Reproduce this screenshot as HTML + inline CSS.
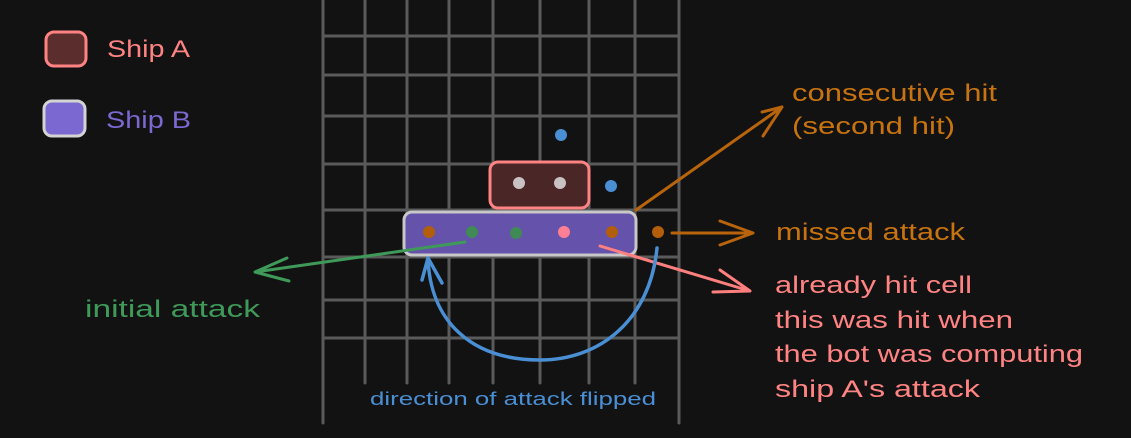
<!DOCTYPE html>
<html><head><meta charset="utf-8"><style>
html,body{margin:0;padding:0;background:#121212;}
svg{display:block;}
text{font-family:"Liberation Sans","DejaVu Sans",sans-serif;}
</style></head><body>
<svg width="1131" height="438" viewBox="0 0 1131 438">
<rect width="1131" height="438" fill="#121212"/>
<g id="grid" stroke="#5a5a5a" stroke-width="3" stroke-linecap="round"></g>

<g>
  <rect x="46" y="32" width="40" height="34" rx="8" fill="#5c2d2d" stroke="#ff8383" stroke-width="3"/>
  <text x="107" y="57" font-size="24" fill="#ff8383" textLength="83" lengthAdjust="spacingAndGlyphs">Ship A</text>
  <rect x="44" y="101" width="41" height="35" rx="8" fill="#7b68d0" stroke="#d4d4d4" stroke-width="3"/>
  <text x="106" y="128" font-size="24" fill="#7b68d0" textLength="85" lengthAdjust="spacingAndGlyphs">Ship B</text>
</g>

<rect x="490" y="162" width="99" height="46" rx="8" fill="#4a2626" stroke="#ff8383" stroke-width="3"/>
<rect x="404" y="212" width="232" height="43" rx="8" fill="#6552ab" stroke="#c8c8c8" stroke-width="3"/>

<g>
  <circle cx="519" cy="183" r="6" fill="#c9c2c2"/>
  <circle cx="560" cy="183" r="6" fill="#c9c2c2"/>
  <circle cx="561" cy="135" r="6" fill="#4a8fd4"/>
  <circle cx="611" cy="186" r="6" fill="#4a8fd4"/>
  <circle cx="429" cy="232" r="6" fill="#b35e0a"/>
  <circle cx="472" cy="232" r="6" fill="#3f8a55"/>
  <circle cx="516" cy="233" r="6" fill="#3f8a55"/>
  <circle cx="564" cy="232" r="6" fill="#ff7f95"/>
  <circle cx="612" cy="232" r="6" fill="#b35e0a"/>
  <circle cx="658" cy="232" r="6" fill="#b35e0a"/>
</g>

<g fill="none" stroke-width="3" stroke-linecap="round" stroke-linejoin="round">
  <path d="M636 210 L782 107 M762 112 L782 107 L763 136" stroke="#b8640c"/>
  <path d="M672 233 L753 233 M720 221 L753 233 L720 245" stroke="#b8640c"/>
  <path d="M600 246 L750 291 M720 270 L750 291 L713 292" stroke="#ff7f7f"/>
  <path d="M465 242 L255 272 M287 258 L255 272 L289 281" stroke="#3f9a5a"/>
  <path d="M657 248 C650 320 600 360 540 360 C470 360 430 320 428 258 M422 280 L428 258 L442 283" stroke="#4a8fd4" stroke-width="3.5"/>
</g>

<g>
  <text x="792" y="101" font-size="24" fill="#c7730f" textLength="205" lengthAdjust="spacingAndGlyphs">consecutive hit</text>
  <text x="792" y="134" font-size="24" fill="#c7730f" textLength="163" lengthAdjust="spacingAndGlyphs">(second hit)</text>
  <text x="776" y="240" font-size="24" fill="#c7730f" textLength="189" lengthAdjust="spacingAndGlyphs">missed attack</text>
  <text x="775" y="293" font-size="24" fill="#ff8383" textLength="197" lengthAdjust="spacingAndGlyphs">already hit cell</text>
  <text x="775" y="328" font-size="24" fill="#ff8383" textLength="238" lengthAdjust="spacingAndGlyphs">this was hit when</text>
  <text x="775" y="362" font-size="24" fill="#ff8383" textLength="308" lengthAdjust="spacingAndGlyphs">the bot was computing</text>
  <text x="775" y="397" font-size="24" fill="#ff8383" textLength="205" lengthAdjust="spacingAndGlyphs">ship A's attack</text>
  <text x="85" y="317" font-size="24" fill="#3f9a5a" textLength="175" lengthAdjust="spacingAndGlyphs">initial attack</text>
  <text x="370" y="405" font-size="18" fill="#4a8fd4" textLength="286" lengthAdjust="spacingAndGlyphs">direction of attack flipped</text>
</g>
</svg>
<script>
const innerCols = [365, 407, 449, 493, 540, 589, 635];
const outerCols = [323, 679];
const rows = [36, 75, 116, 164, 210, 257, 300, 338];
const g = document.getElementById('grid');
const NS = 'http://www.w3.org/2000/svg';
function ln(x1,y1,x2,y2,name){
  const l = document.createElementNS(NS,'line');
  l.setAttribute('x1',x1);l.setAttribute('y1',y1);l.setAttribute('x2',x2);l.setAttribute('y2',y2);
  
  
  g.appendChild(l);
}
outerCols.forEach(x=>ln(x,0,x,423,'grid-border'));
innerCols.forEach(x=>ln(x,0,x,383,'grid-column-line'));
rows.forEach(y=>ln(323,y,679,y,'grid-row-line'));
</script>
</body></html>
